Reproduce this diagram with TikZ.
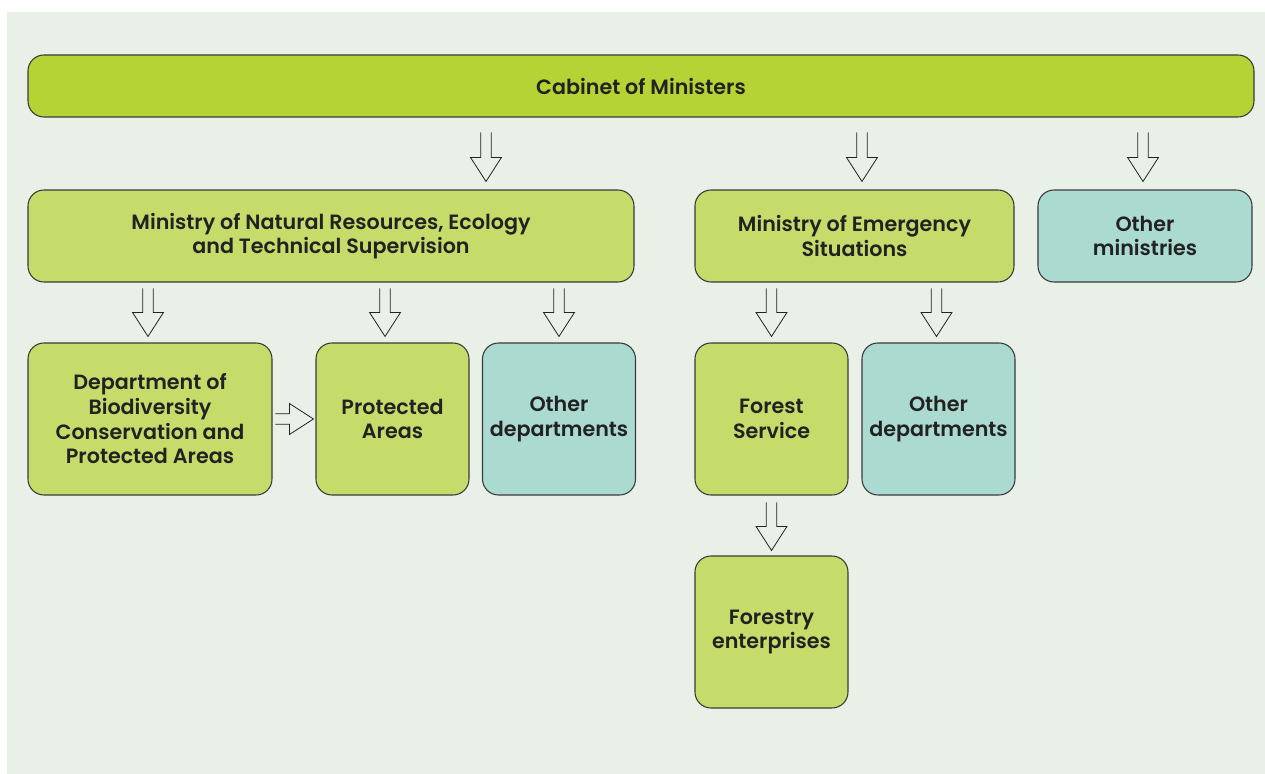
\documentclass[tikz,border=0pt]{standalone}
\usepackage{fontspec}
\setmainfont{Poppins}[BoldFont={Poppins SemiBold}]
\usepackage{tikz}

\definecolor{PageBack}{HTML}{E9F0E8}
\definecolor{LimeDark}{HTML}{B5D334}
\definecolor{LimeLight}{HTML}{C5DC6A}
\definecolor{TealLight}{HTML}{ABDAD0}
\definecolor{EdgeGray}{HTML}{3A3A3A}
\definecolor{InkGray}{HTML}{222222}

\tikzset{
  unit/.style={draw=EdgeGray, line width=0.8pt, rounded corners=12pt,
    text=InkGray, font=\bfseries\fontsize{15.5}{18.5}\selectfont,
    align=center, inner sep=2pt},
  mainunit/.style={unit, fill=LimeDark, minimum height=46.5pt},
  greenunit/.style={unit, fill=LimeLight},
  tealunit/.style={unit, fill=TealLight},
  wide/.style={minimum height=69pt},
  square/.style={minimum width=114.75pt, minimum height=114pt},
  pics/hollowarrow/.style={code={
    \draw [draw=InkGray, line width=0.6pt, line join=miter]
      (-3.9pt, #1) -- (-3.9pt, 18pt) -- (-11.6pt, 18pt) -- (0, 0)
      -- (11.6pt, 18pt) -- (3.9pt, 18pt) -- (3.9pt, #1);
  }}
}

\begin{document}
\begin{tikzpicture}[x=0.75pt, y=-0.75pt]
  % Page
  \useasboundingbox (0, 0) rectangle (1265, 774);
  \fill [PageBack] (7, 12) rectangle (1265, 774);

  % Cabinet of Ministers.
  \node [mainunit, minimum width=919.5pt] (cabinet) at (641, 86)
    {Cabinet of Ministers};

  % Ministries.
  \node [greenunit, wide, minimum width=454.5pt] (natres) at (331, 236)
    {Ministry of Natural Resources, Ecology\\and Technical Supervision};
  \node [greenunit, wide, minimum width=239.25pt] (emerg) at (854.5, 236)
    {Ministry of Emergency\\Situations};
  \node [tealunit, wide, minimum width=160.5pt] (othermin) at (1145, 236)
    {Other\\ministries};

  % Departments of natural resources.
  \node [greenunit, minimum width=183pt, minimum height=114pt] (biodiv) at (150, 419)
    {Department of\\Biodiversity\\Conservation and\\Protected Areas};
  \node [greenunit, square] (protected) at (392.5, 419) {Protected\\Areas};
  \node [tealunit, square] (otherdepa) at (559, 419) {Other\\departments};

  % Departments of emergency situations.
  \node [greenunit, square] (forest) at (771.5, 419) {Forest\\Service};
  \node [tealunit, square] (otherdepb) at (938.5, 419) {Other\\departments};

  % Forestry enterprises.
  \node [greenunit, square] (forestry) at (771.5, 632) {Forestry\\enterprises};

  % Arrows from the cabinet.
  \pic at ([xshift=116.25pt, yshift=6pt] natres.north) {hollowarrow=36.75pt};
  \pic at ([xshift=5.6pt, yshift=6pt] emerg.north) {hollowarrow=36.75pt};
  \pic at ([xshift=-1.5pt, yshift=6pt] othermin.north) {hollowarrow=36.75pt};

  % Arrows from the ministries.
  \pic at ([xshift=-1.5pt, yshift=4.5pt] biodiv.north) {hollowarrow=36pt};
  \pic at ([xshift=-5.6pt, yshift=4.5pt] protected.north) {hollowarrow=36pt};
  \pic at ([yshift=4.5pt] otherdepa.north) {hollowarrow=36pt};
  \pic at ([yshift=4.5pt] forest.north) {hollowarrow=36pt};
  \pic at ([xshift=-1.5pt, yshift=4.5pt] otherdepb.north) {hollowarrow=36pt};

  % Arrow to the forestry enterprises.
  \pic at ([yshift=3.75pt] forestry.north) {hollowarrow=36pt};

  % Arrow to the protected areas.
  \pic [rotate=90] at ([xshift=-1.5pt] protected.west) {hollowarrow=28.5pt};
\end{tikzpicture}
\end{document}
